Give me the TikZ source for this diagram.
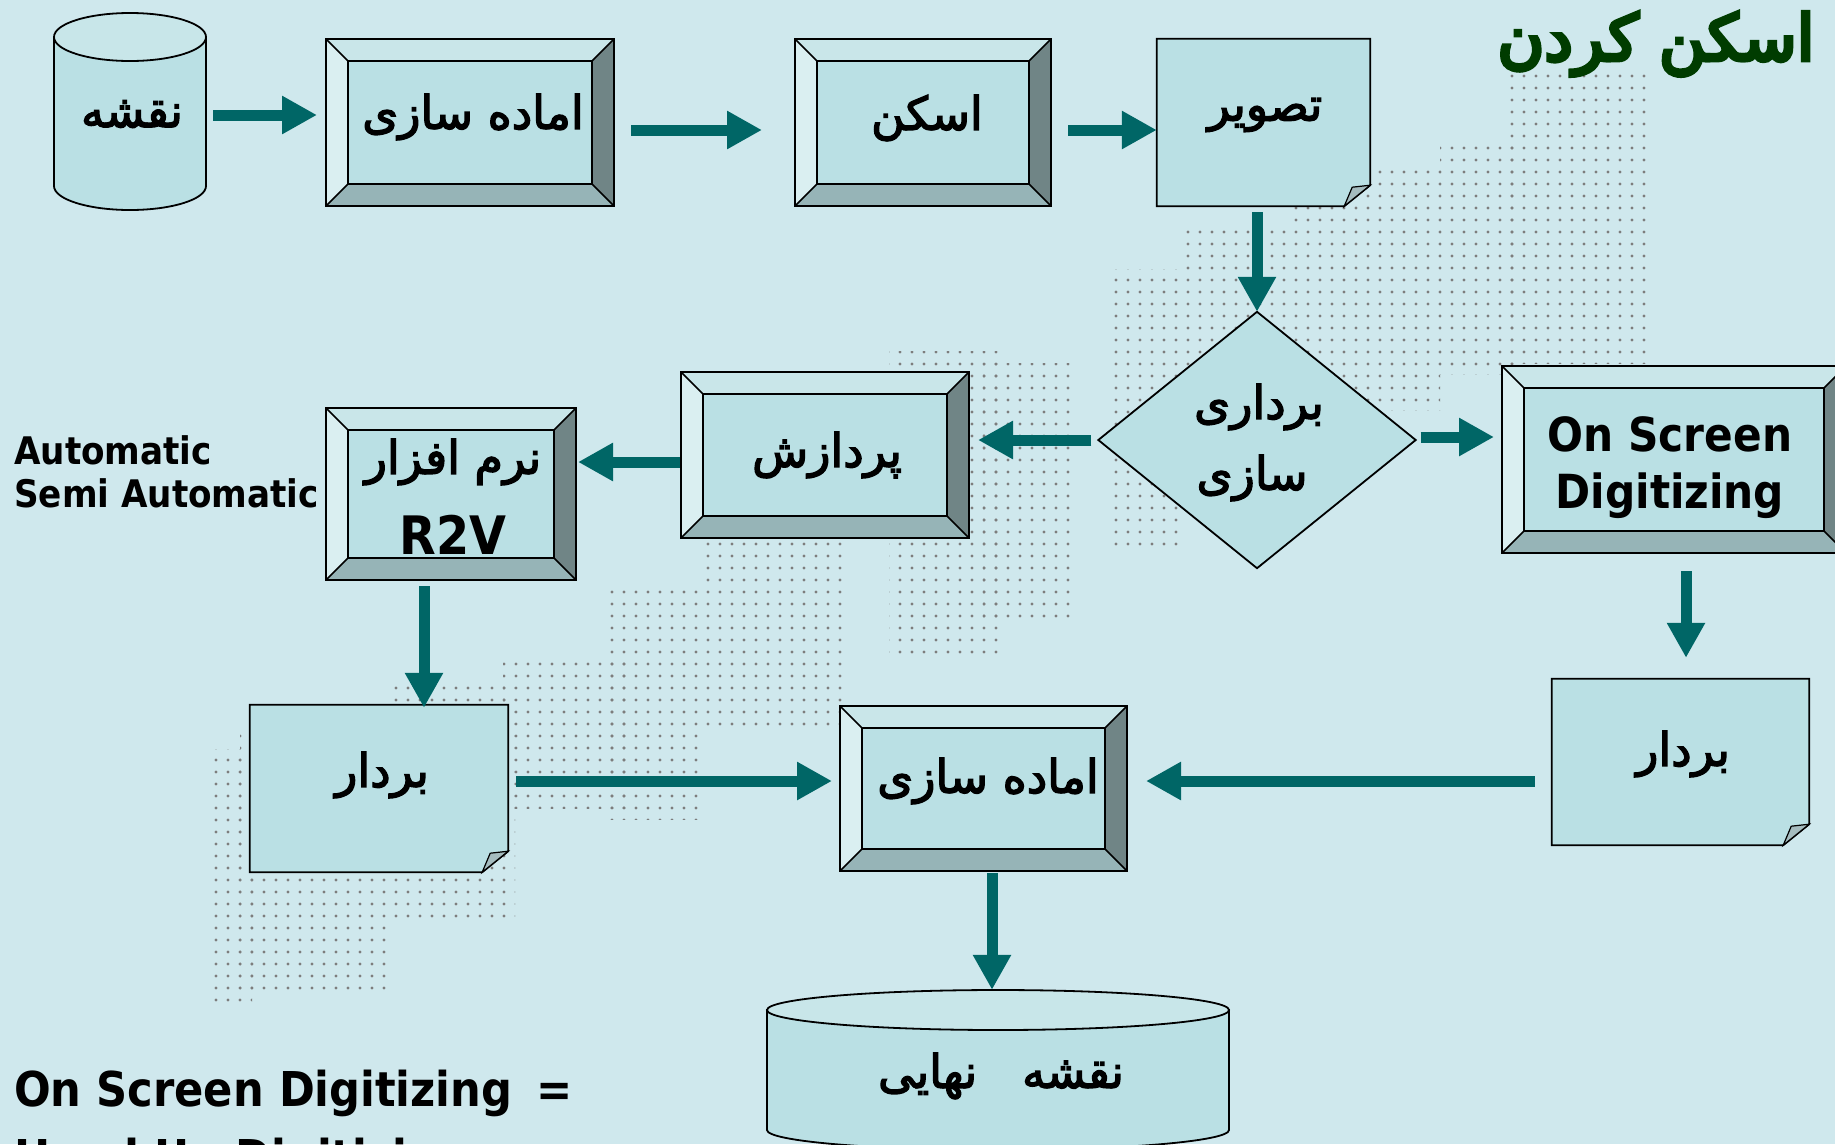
\documentclass[tikz,border=0pt]{standalone}
\usepackage{fontspec}
\usetikzlibrary{arrows.meta,calc,patterns.meta}
\TeXXeTstate=1
\newfontfamily\latf{DejaVu Sans Condensed Bold}
\newfontfamily\arf[Script=Arabic,FakeBold=3]{DejaVu Sans}
\newfontfamily\arfb[Script=Arabic,FakeBold=6]{DejaVu Sans}
\newcommand\ar[1]{\beginR #1\endR}
\definecolor{bgc}{RGB}{207,232,237}
\definecolor{facec}{RGB}{186,224,228}
\definecolor{topc}{RGB}{201,230,233}
\definecolor{leftc}{RGB}{218,239,241}
\definecolor{rightc}{RGB}{112,133,134}
\definecolor{botc}{RGB}{150,180,183}
\definecolor{arrc}{RGB}{0,102,102}
\definecolor{flapc}{RGB}{165,188,191}
\definecolor{titlec}{RGB}{0,60,0}
\definecolor{dotc}{RGB}{125,125,125}
\definecolor{cyltop}{RGB}{200,230,233}
\begin{document}
\begin{tikzpicture}[x=1pt,y=-1pt,
  bevelbox/.style={draw=black, line width=2pt, fill=facec, inner sep=0pt,
    path picture={
      \coordinate (pnw) at (path picture bounding box.north west);
      \coordinate (pne) at (path picture bounding box.north east);
      \coordinate (psw) at (path picture bounding box.south west);
      \coordinate (pse) at (path picture bounding box.south east);
      \coordinate (qnw) at ($(pnw)+(22pt,-22pt)$);
      \coordinate (qne) at ($(pne)+(-22pt,-22pt)$);
      \coordinate (qsw) at ($(psw)+(22pt,22pt)$);
      \coordinate (qse) at ($(pse)+(-22pt,22pt)$);
      \fill[topc] (pnw)--(pne)--(qne)--(qnw)--cycle;
      \fill[leftc] (pnw)--(qnw)--(qsw)--(psw)--cycle;
      \fill[rightc] (pne)--(pse)--(qse)--(qne)--cycle;
      \fill[botc] (psw)--(qsw)--(qse)--(pse)--cycle;
      \draw[line width=1.6pt] (qnw) rectangle (qse) (pnw)--(qnw) (pne)--(qne) (psw)--(qsw) (pse)--(qse);
    }},
  holder/.style={draw=none, inner sep=0pt},
  outl/.style={draw=black, line width=1.8pt},
  atext/.style={font=\arf\fontsize{46}{60}\selectfont, inner sep=0pt},
  ltext/.style={font=\latf\fontsize{47}{57}\selectfont, inner sep=0pt},
  arr/.style={draw=arrc, line width=11pt, -{Triangle[length=35pt,width=36pt]}},
  dotfill/.style={pattern={Dots[distance=12pt,radius=1.7pt]}, pattern color=dotc}
]
\useasboundingbox (0,0) rectangle (1835,1144);
\fill[bgc] (0,0) rectangle (1835,1144);

% halftone background
\foreach \xa/\xb/\ya/\yb in {214/252/749/1009, 240/386/726/995, 386/515/679/925,
  503/632/655/808, 608/702/585/819, 702/843/538/726, 889/1006/351/655,
  983/1077/363/620, 1112/1182/269/550, 1182/1287/222/503, 1287/1440/164/410,
  1440/1521/140/374, 1510/1650/70/363}
  \fill[dotfill] (\xa,\ya) rectangle (\xb,\yb);

% title
\node[font=\arfb\fontsize{64}{70}\selectfont, text=titlec, inner sep=0pt] (title) at (1656,44) {\ar{اسکن کردن}};

% cylinder 1
\filldraw[outl, fill=facec] (54,37) -- (54,186) arc[start angle=180,end angle=360,x radius=76pt,y radius=24pt] -- (206,37) -- cycle;
\filldraw[outl, fill=cyltop] (130,37) ellipse [x radius=76pt, y radius=24pt];
\node[holder, minimum width=152pt, minimum height=196pt] (cyl1) at (130,111) {};
\node[atext] (cyl1t) at (132,114) {\ar{نقشه}};

% row 1
\node[bevelbox, minimum width=288pt, minimum height=167pt] (prep1) at (470,122.5) {};
\node[atext] (prep1t) at (473,117) {\ar{اماده سازی}};
\node[bevelbox, minimum width=256pt, minimum height=167pt] (scan) at (923,122.5) {};
\node[atext] (scant) at (927,118) {\ar{اسکن}};
\node[holder, minimum width=213pt, minimum height=167pt] (img) at (1263.5,122.5) {};
\filldraw[outl, fill=facec] (img.north west) -- (img.north east) -- ([yshift=21pt]img.south east) -- ([xshift=-26pt]img.south east) -- (img.south west) -- cycle;
\filldraw[draw=black, line width=1.2pt, fill=flapc] ([yshift=21pt]img.south east) -- ([xshift=-26pt]img.south east) -- ([shift={(-18pt,19pt)}]img.south east) -- cycle;
\node[atext] (imgt) at (1265,115) {\ar{تصویر}};

% diamond
\node[holder, minimum width=317pt, minimum height=256pt] (dia) at (1257,440) {};
\filldraw[outl, fill=facec] (dia.north) -- (dia.east) -- (dia.south) -- (dia.west) -- cycle;
\node[atext] (diat1) at (1259,407) {\ar{برداری}};
\node[atext] (diat2) at (1252,478) {\ar{سازی}};

% on screen digitizing box
\node[bevelbox, minimum width=344pt, minimum height=187pt] (osd) at (1674,459.5) {};
\node[ltext, align=center] (osdt) at (1670,468) {On Screen\\Digitizing};

% processing
\node[bevelbox, minimum width=288pt, minimum height=166pt] (proc) at (825,455) {};
\node[atext] (proct) at (827,455) {\ar{پردازش}};

% R2V
\node[bevelbox, minimum width=250pt, minimum height=172pt] (r2v) at (451,494) {};
\node[atext] (r2vt1) at (453,462) {\ar{نرم افزار}};
\node[font=\latf\fontsize{53}{60}\selectfont, inner sep=0pt] (r2vt2) at (453,535) {R2V};

\node[font=\latf\fontsize{38}{43}\selectfont, inner sep=0pt, align=left, anchor=west] (auto) at (14,472) {Automatic\\Semi Automatic};

% vector left
\node[holder, minimum width=258pt, minimum height=167pt] (vec1) at (379,788.5) {};
\filldraw[outl, fill=facec] (vec1.north west) -- (vec1.north east) -- ([yshift=21pt]vec1.south east) -- ([xshift=-26pt]vec1.south east) -- (vec1.south west) -- cycle;
\filldraw[draw=black, line width=1.2pt, fill=flapc] ([yshift=21pt]vec1.south east) -- ([xshift=-26pt]vec1.south east) -- ([shift={(-18pt,19pt)}]vec1.south east) -- cycle;
\node[atext] (vec1t) at (382,775) {\ar{بردار}};

% prep 2
\node[bevelbox, minimum width=287pt, minimum height=165pt] (prep2) at (983.5,788.5) {};
\node[atext] (prep2t) at (988,781) {\ar{اماده سازی}};

% vector right
\node[holder, minimum width=257pt, minimum height=166pt] (vec2) at (1680.5,762) {};
\filldraw[outl, fill=facec] (vec2.north west) -- (vec2.north east) -- ([yshift=21pt]vec2.south east) -- ([xshift=-26pt]vec2.south east) -- (vec2.south west) -- cycle;
\filldraw[draw=black, line width=1.2pt, fill=flapc] ([yshift=21pt]vec2.south east) -- ([xshift=-26pt]vec2.south east) -- ([shift={(-18pt,19pt)}]vec2.south east) -- cycle;
\node[atext] (vec2t) at (1683,754) {\ar{بردار}};

% final map cylinder
\filldraw[outl, fill=facec] (767,1010) -- (767,1130) arc[start angle=180,end angle=360,x radius=231pt,y radius=20pt] -- (1229,1010) -- cycle;
\filldraw[outl, fill=cyltop] (998,1010) ellipse [x radius=231pt, y radius=20pt];
\node[holder, minimum width=462pt, minimum height=160pt] (cyl2) at (998,1070) {};
\node[atext] (cyl2t) at (1001,1076) {\ar{نقشه\hspace{45pt}نهایی}};

% bottom text
\node[font=\latf\fontsize{48}{60}\selectfont, inner sep=0pt, anchor=base west] (osdeq) at (14,1106) {On Screen Digitizing\hspace{24pt}=};
\node[font=\latf\fontsize{48}{60}\selectfont, inner sep=0pt, anchor=base west] (hud) at (14,1174) {Head Up Digitizing};

% connectors
\draw[arr] ([shift={(7pt,-4pt)}]cyl1.east) -- ([shift={(-8pt,7.5pt)}]prep1.west);
\draw[arr] ([shift={(16pt,-7.5pt)}]prep1.east) -- ([shift={(-32pt,-7.5pt)}]scan.west);
\draw[arr] ([shift={(16pt,-7.5pt)}]scan.east) -- ([yshift=-7.5pt]img.west);
\draw[arr] ([shift={(-6.5pt,-6pt)}]img.south) -- (dia.north);
\draw[arr] ([xshift=-7pt]dia.west) -- ([shift={(8pt,15pt)}]proc.east);
\draw[arr] ([shift={(5pt,3pt)}]dia.east) -- ([shift={(-7pt,22.5pt)}]osd.west);
\draw[arr] ([yshift=-7pt]proc.west) -- ([shift={(1pt,32pt)}]r2v.east);
\draw[arr] ([shift={(-27pt,-5pt)}]r2v.south) -- ([shift={(45pt,-3pt)}]vec1.north);
\draw[arr] ([shift={(8pt,7.5pt)}]vec1.east) -- ([shift={(-7pt,7.5pt)}]prep2.west);
\draw[arr] ([shift={(12pt,-17pt)}]osd.south) -- ([shift={(5.5pt,21pt)}]vec2.north);
\draw[arr] ([shift={(-17pt,-19pt)}]vec2.west) -- ([shift={(18pt,7.5pt)}]prep2.east);
\draw[arr] ([shift={(8.5pt,-1pt)}]prep2.south) -- ([xshift=-6pt]cyl2.north);
\end{tikzpicture}
\end{document}
